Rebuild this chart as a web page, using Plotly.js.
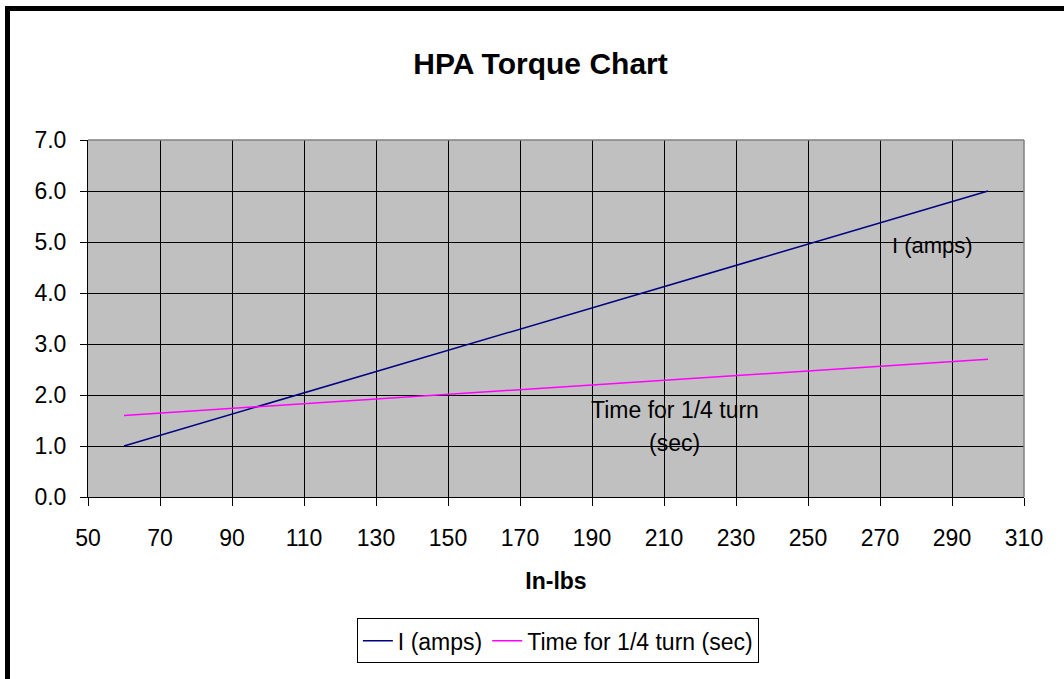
<!DOCTYPE html>
<html>
<head>
<meta charset="utf-8">
<script src="https://cdn.plot.ly/plotly-3.0.1.min.js"></script>
<style>
html,body{margin:0;padding:0;background:#fff;}
#wrap{position:relative;width:1064px;height:679px;}
#chart{width:1064px;height:679px;}
#frame{position:absolute;left:5px;top:6px;width:1100px;height:700px;border-top:5px solid #000;border-left:5px solid #000;pointer-events:none;}
</style>
</head>
<body>
<div id="wrap"><div id="chart"></div><div id="frame"></div></div>
<script>
const torque = [60, 300];
const currentAmps = [1.0, 6.0];
const quarterTurnSec = [1.6, 2.7];
const seriesNames = ['I (amps)', 'Time for 1/4 turn (sec)'];

const font = 'Liberation Sans, Arial, sans-serif';

const traces = [
  {x: torque, y: currentAmps, name: seriesNames[0], mode: 'lines', line: {color: '#000080', width: 1.5}},
  {x: torque, y: quarterTurnSec, name: seriesNames[1], mode: 'lines', line: {color: '#FF00FF', width: 1.5}}
];

const layout = {
  width: 1064, height: 679,
  margin: {l: 88, r: 40, t: 140, b: 182},
  paper_bgcolor: '#ffffff',
  plot_bgcolor: '#C0C0C0',
  font: {family: font, size: 22, color: '#000'},
  title: {text: '<b>HPA Torque Chart</b>', font: {family: font, size: 30, color: '#000'}, x: 0.508, xanchor: 'center', y: 0.907, yanchor: 'middle'},
  xaxis: {
    range: [50, 310], tick0: 50, dtick: 20, tickmode: 'linear',
    showgrid: true, gridcolor: '#000', gridwidth: 1,
    showline: true, linecolor: '#000', linewidth: 1, mirror: false,
    ticks: 'outside', ticklen: 8, tickcolor: '#000',
    ticklabelstandoff: 12,
    zeroline: false,
    tickfont: {family: font, size: 23},
    title: {text: '<b>In-lbs</b>', font: {family: font, size: 23}, standoff: 23}
  },
  yaxis: {
    range: [0, 7], dtick: 1, tick0: 0, tickmode: 'linear', tickformat: '.1f',
    showgrid: true, gridcolor: '#000', gridwidth: 1,
    showline: true, linecolor: '#000', linewidth: 1,
    ticks: 'outside', ticklen: 7, tickcolor: '#000',
    ticklabelstandoff: 9,
    zeroline: false,
    tickfont: {family: font, size: 23}
  },
  shapes: [
    {type: 'line', xref: 'paper', yref: 'paper', x0: 0, x1: 1, y0: 1, y1: 1, line: {color: '#808080', width: 1.5}},
    {type: 'line', xref: 'paper', yref: 'paper', x0: 1, x1: 1, y0: 0, y1: 1, line: {color: '#808080', width: 1.5}}
  ],
  showlegend: true,
  legend: {
    orientation: 'h', x: 0.502, xanchor: 'center', y: -0.403, yanchor: 'middle',
    bgcolor: '#ffffff', bordercolor: '#000', borderwidth: 1,
    font: {family: font, size: 23}
  },
  annotations: [
    {text: 'I (amps)', x: 272.8, y: 4.94, xref: 'x', yref: 'y', xanchor: 'left', yanchor: 'middle', showarrow: false, font: {family: font, size: 22}},
    {text: 'Time for 1/4 turn', x: 213, y: 1.71, xref: 'x', yref: 'y', xanchor: 'center', yanchor: 'middle', showarrow: false, font: {family: font, size: 23}},
    {text: '(sec)', x: 213, y: 1.06, xref: 'x', yref: 'y', xanchor: 'center', yanchor: 'middle', showarrow: false, font: {family: font, size: 23}}
  ]
};

Plotly.newPlot('chart', traces, layout, {displayModeBar: false, staticPlot: true});
</script>
</body>
</html>
